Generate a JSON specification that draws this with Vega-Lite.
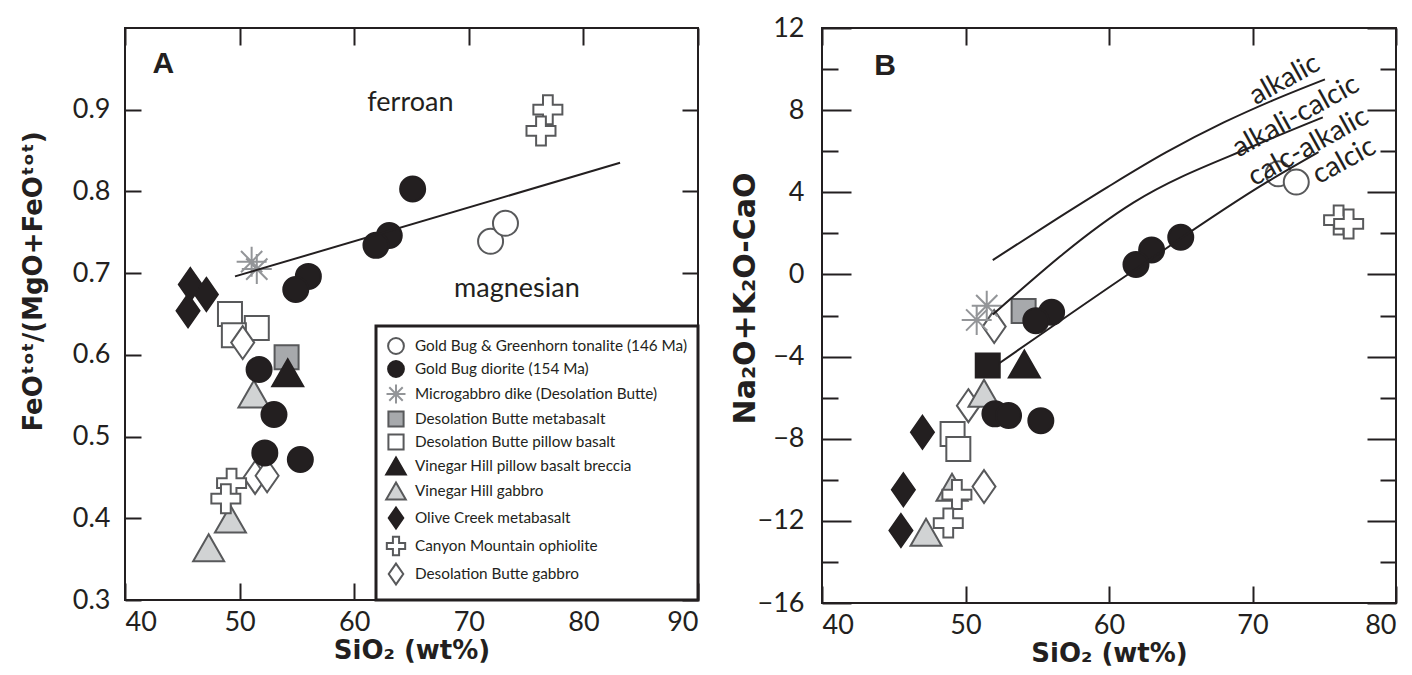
{
  "$schema": "https://vega.github.io/schema/vega-lite/v6.json",
  "padding": {"left": 19, "top": 13, "right": 5, "bottom": 0},
  "spacing": 28,
  "datasets": {
    "ptsA": [
      {"group": "Olive Creek metabasalt", "sio2": 45.7, "v": 0.686},
      {"group": "Olive Creek metabasalt", "sio2": 47.1, "v": 0.674},
      {"group": "Olive Creek metabasalt", "sio2": 45.5, "v": 0.654},
      {"group": "Desolation Butte pillow basalt", "sio2": 49.16, "v": 0.65},
      {"group": "Desolation Butte pillow basalt", "sio2": 51.5, "v": 0.633},
      {"group": "Desolation Butte pillow basalt", "sio2": 49.5, "v": 0.624},
      {"group": "Desolation Butte gabbro", "sio2": 50.27, "v": 0.615},
      {"group": "Desolation Butte gabbro", "sio2": 51.35, "v": 0.45},
      {"group": "Desolation Butte gabbro", "sio2": 52.4, "v": 0.452},
      {"group": "Desolation Butte metabasalt", "sio2": 54.1, "v": 0.597},
      {"group": "Vinegar Hill pillow basalt breccia", "sio2": 54.2, "v": 0.578},
      {"group": "Vinegar Hill gabbro", "sio2": 51.25, "v": 0.552},
      {"group": "Vinegar Hill gabbro", "sio2": 49.2, "v": 0.399},
      {"group": "Vinegar Hill gabbro", "sio2": 47.3, "v": 0.364},
      {"group": "Canyon Mountain ophiolite", "sio2": 76.9, "v": 0.9},
      {"group": "Canyon Mountain ophiolite", "sio2": 76.3, "v": 0.874},
      {"group": "Canyon Mountain ophiolite", "sio2": 49.3, "v": 0.443},
      {"group": "Canyon Mountain ophiolite", "sio2": 48.8, "v": 0.424},
      {"group": "Gold Bug & Greenhorn tonalite (146 Ma)", "sio2": 71.9, "v": 0.739},
      {"group": "Gold Bug & Greenhorn tonalite (146 Ma)", "sio2": 73.2, "v": 0.761},
      {"group": "Microgabbro dike (Desolation Butte)", "sio2": 51.05, "v": 0.714},
      {"group": "Microgabbro dike (Desolation Butte)", "sio2": 51.5, "v": 0.705},
      {"group": "Gold Bug diorite (154 Ma)", "sio2": 65.1, "v": 0.803},
      {"group": "Gold Bug diorite (154 Ma)", "sio2": 63.06, "v": 0.746},
      {"group": "Gold Bug diorite (154 Ma)", "sio2": 61.9, "v": 0.734},
      {"group": "Gold Bug diorite (154 Ma)", "sio2": 56.0, "v": 0.696},
      {"group": "Gold Bug diorite (154 Ma)", "sio2": 54.9, "v": 0.68},
      {"group": "Gold Bug diorite (154 Ma)", "sio2": 51.7, "v": 0.582},
      {"group": "Gold Bug diorite (154 Ma)", "sio2": 53.0, "v": 0.527},
      {"group": "Gold Bug diorite (154 Ma)", "sio2": 52.2, "v": 0.48},
      {"group": "Gold Bug diorite (154 Ma)", "sio2": 55.3, "v": 0.472}
    ],
    "ptsB": [
      {"group": "Olive Creek metabasalt", "sio2": 47.0, "v": -7.69},
      {"group": "Olive Creek metabasalt", "sio2": 45.67, "v": -10.49},
      {"group": "Olive Creek metabasalt", "sio2": 45.5, "v": -12.47},
      {"group": "Desolation Butte pillow basalt", "sio2": 49.1, "v": -7.77},
      {"group": "Desolation Butte pillow basalt", "sio2": 49.5, "v": -8.5},
      {"group": "Desolation Butte gabbro", "sio2": 52.0, "v": -2.54},
      {"group": "Desolation Butte gabbro", "sio2": 50.2, "v": -6.39},
      {"group": "Desolation Butte gabbro", "sio2": 51.29, "v": -10.33},
      {"group": "Desolation Butte metabasalt", "sio2": 54.05, "v": -1.78},
      {"group": "Desolation Butte metabasalt (black square)", "sio2": 51.55, "v": -4.44},
      {"group": "Vinegar Hill pillow basalt breccia", "sio2": 54.1, "v": -4.36},
      {"group": "Vinegar Hill gabbro", "sio2": 51.29, "v": -5.79},
      {"group": "Vinegar Hill gabbro", "sio2": 49.06, "v": -10.36},
      {"group": "Vinegar Hill gabbro", "sio2": 47.25, "v": -12.55},
      {"group": "Canyon Mountain ophiolite", "sio2": 76.0, "v": 2.65},
      {"group": "Canyon Mountain ophiolite", "sio2": 76.7, "v": 2.46},
      {"group": "Canyon Mountain ophiolite", "sio2": 49.4, "v": -10.72},
      {"group": "Canyon Mountain ophiolite", "sio2": 48.8, "v": -12.11},
      {"group": "Gold Bug & Greenhorn tonalite (146 Ma)", "sio2": 71.8, "v": 4.9},
      {"group": "Gold Bug & Greenhorn tonalite (146 Ma)", "sio2": 73.05, "v": 4.5},
      {"group": "Microgabbro dike (Desolation Butte)", "sio2": 51.48, "v": -1.52},
      {"group": "Microgabbro dike (Desolation Butte)", "sio2": 50.78, "v": -2.22},
      {"group": "Gold Bug diorite (154 Ma)", "sio2": 65.0, "v": 1.81},
      {"group": "Gold Bug diorite (154 Ma)", "sio2": 62.97, "v": 1.19},
      {"group": "Gold Bug diorite (154 Ma)", "sio2": 61.88, "v": 0.48},
      {"group": "Gold Bug diorite (154 Ma)", "sio2": 56.0, "v": -1.84},
      {"group": "Gold Bug diorite (154 Ma)", "sio2": 54.9, "v": -2.25},
      {"group": "Gold Bug diorite (154 Ma)", "sio2": 52.05, "v": -6.79},
      {"group": "Gold Bug diorite (154 Ma)", "sio2": 53.0, "v": -6.87},
      {"group": "Gold Bug diorite (154 Ma)", "sio2": 55.25, "v": -7.12}
    ],
    "lineA": [
      {"sio2": 49.6, "v": 0.696},
      {"sio2": 83.2, "v": 0.835}
    ],
    "curvesB": [
      {"curve": "alkalic", "sio2": 51.9, "v": 0.7},
      {"curve": "alkalic", "sio2": 55.9, "v": 2.5},
      {"curve": "alkalic", "sio2": 59.9, "v": 4.25},
      {"curve": "alkalic", "sio2": 64.0, "v": 5.95},
      {"curve": "alkalic", "sio2": 68.0, "v": 7.4},
      {"curve": "alkalic", "sio2": 71.5, "v": 8.5},
      {"curve": "alkalic", "sio2": 75.05, "v": 9.5},
      {"curve": "alkali-calcic", "sio2": 51.9, "v": -1.95},
      {"curve": "alkali-calcic", "sio2": 61.7, "v": 3.5},
      {"curve": "alkali-calcic", "sio2": 70.4, "v": 6.35},
      {"curve": "alkali-calcic", "sio2": 74.9, "v": 7.65},
      {"curve": "calc-alkalic", "sio2": 52.3, "v": -4.35},
      {"curve": "calc-alkalic", "sio2": 61.7, "v": 0.18},
      {"curve": "calc-alkalic", "sio2": 71.0, "v": 4.49},
      {"curve": "calc-alkalic", "sio2": 74.6, "v": 5.95}
    ],
    "zonesA": [
      {"label": "ferroan", "sio2": 64.9, "v": 0.908},
      {"label": "magnesian", "sio2": 74.2, "v": 0.681}
    ],
    "panelA": [{"label": "A", "sio2": 43.34, "v": 0.956}],
    "curveLabelsB": [
      {"label": "alkalic", "sio2": 72.26, "v": 9.47},
      {"label": "alkali-calcic", "sio2": 73.03, "v": 7.68},
      {"label": "calc-alkalic", "sio2": 73.9, "v": 6.19},
      {"label": "calcic", "sio2": 76.4, "v": 5.51}
    ],
    "panelB": [{"label": "B", "sio2": 44.39, "v": 10.16}]
  },
  "hconcat": [
    {
      "width": 573,
      "height": 572,
      "layer": [
        {
          "data": {"name": "ptsA"},
          "mark": {"type": "point", "size": 625, "strokeWidth": 2, "opacity": 1},
          "encoding": {
            "x": {"field": "sio2", "type": "quantitative", "scale": {"domain": [40, 90], "nice": false, "zero": false},
                  "axis": {"orient": "bottom", "values": [40, 50, 60, 70, 80, 90], "tickSize": -17, "labelPadding": 26, "title": "SiO₂ (wt%)", "titlePadding": 2}},
            "y": {"field": "v", "type": "quantitative", "scale": {"domain": [0.3, 1.0], "nice": false, "zero": false},
                  "axis": {"orient": "left", "values": [0.3, 0.4, 0.5, 0.6, 0.7, 0.8, 0.9], "format": ".1f", "tickSize": -16, "labelPadding": 31, "title": "FeOᵗᵒᵗ/(MgO+FeOᵗᵒᵗ)", "titlePadding": 26, "titleY": 253}},
            "shape": {"field": "group", "type": "nominal", "legend": {"title": null, "symbolSize": 250, "encode": {"symbols": {"update": {"size": {"value": 250}}}}},
                      "scale": {"domain": ["Gold Bug & Greenhorn tonalite (146 Ma)", "Gold Bug diorite (154 Ma)", "Microgabbro dike (Desolation Butte)", "Desolation Butte metabasalt", "Desolation Butte pillow basalt", "Vinegar Hill pillow basalt breccia", "Vinegar Hill gabbro", "Olive Creek metabasalt", "Canyon Mountain ophiolite", "Desolation Butte gabbro"],
                                "range": ["circle", "circle", "M0,-1.2V1.2M-1.2,0H1.2M-0.85,-0.85L0.85,0.85M-0.85,0.85L0.85,-0.85", "M-0.96,-0.96H0.96V0.96H-0.96Z", "M-0.96,-0.96H0.96V0.96H-0.96Z", "M0,-1.08L1.24,1.08L-1.24,1.08Z", "M0,-1.08L1.24,1.08L-1.24,1.08Z", "M0,-1.32L0.92,0L0,1.32L-0.92,0Z", "M-0.39,-1.16H0.39V-0.39H1.16V0.39H0.39V1.16H-0.39V0.39H-1.16V-0.39H-0.39Z", "M0,-1.32L0.92,0L0,1.32L-0.92,0Z"]}},
            "fill": {"field": "group", "type": "nominal", "legend": {"title": null, "symbolSize": 250, "encode": {"symbols": {"update": {"size": {"value": 250}}}}},
                     "scale": {"domain": ["Gold Bug & Greenhorn tonalite (146 Ma)", "Gold Bug diorite (154 Ma)", "Microgabbro dike (Desolation Butte)", "Desolation Butte metabasalt", "Desolation Butte pillow basalt", "Vinegar Hill pillow basalt breccia", "Vinegar Hill gabbro", "Olive Creek metabasalt", "Canyon Mountain ophiolite", "Desolation Butte gabbro"],
                               "range": ["#ffffff", "#231f20", "transparent", "#a7a9ac", "#ffffff", "#231f20", "#d1d3d4", "#231f20", "#ffffff", "#ffffff"]}},
            "stroke": {"field": "group", "type": "nominal", "legend": {"title": null, "symbolSize": 250, "encode": {"symbols": {"update": {"size": {"value": 250}}}}},
                       "scale": {"domain": ["Gold Bug & Greenhorn tonalite (146 Ma)", "Gold Bug diorite (154 Ma)", "Microgabbro dike (Desolation Butte)", "Desolation Butte metabasalt", "Desolation Butte pillow basalt", "Vinegar Hill pillow basalt breccia", "Vinegar Hill gabbro", "Olive Creek metabasalt", "Canyon Mountain ophiolite", "Desolation Butte gabbro"],
                                 "range": ["#58595b", "#231f20", "#939598", "#58595b", "#58595b", "#231f20", "#58595b", "#231f20", "#58595b", "#58595b"]}}
          }
        },
        {
          "data": {"name": "lineA"},
          "mark": {"type": "line", "color": "#231f20", "strokeWidth": 2},
          "encoding": {
            "x": {"field": "sio2", "type": "quantitative", "axis": {"orient": "top", "values": [40, 50, 60, 70, 80, 90], "tickSize": -17, "labels": false, "title": null}},
            "y": {"field": "v", "type": "quantitative", "axis": {"orient": "right", "values": [0.3, 0.4, 0.5, 0.6, 0.7, 0.8, 0.9], "tickSize": -16, "labels": false, "title": null}}
          }
        },
        {
          "data": {"name": "zonesA"},
          "mark": {"type": "text", "font": "Lato", "fontSize": 27, "color": "#231f20", "baseline": "middle", "align": "center"},
          "encoding": {
            "x": {"field": "sio2", "type": "quantitative", "axis": null},
            "y": {"field": "v", "type": "quantitative", "axis": null},
            "text": {"field": "label"}
          }
        },
        {
          "data": {"name": "panelA"},
          "mark": {"type": "text", "font": "Liberation Sans", "fontWeight": "bold", "fontSize": 30, "color": "#231f20", "baseline": "middle", "align": "center"},
          "encoding": {
            "x": {"field": "sio2", "type": "quantitative", "axis": null},
            "y": {"field": "v", "type": "quantitative", "axis": null},
            "text": {"field": "label"}
          }
        }
      ],
      "resolve": {"axis": {"x": "independent", "y": "independent"}}
    },
    {
      "width": 574,
      "height": 575,
      "layer": [
        {
          "data": {"name": "ptsB"},
          "mark": {"type": "point", "size": 625, "strokeWidth": 2, "opacity": 1},
          "encoding": {
            "x": {"field": "sio2", "type": "quantitative", "scale": {"domain": [40, 80], "nice": false, "zero": false},
                  "axis": {"orient": "bottom", "values": [40, 50, 60, 70, 80], "tickSize": -17, "labelPadding": 26, "title": "SiO₂ (wt%)", "titlePadding": 2}},
            "y": {"field": "v", "type": "quantitative", "scale": {"domain": [-16, 12], "nice": false, "zero": false},
                  "axis": {"orient": "left", "values": [-16, -12, -8, -4, 0, 4, 8, 12], "tickSize": -29, "labelPadding": 47, "title": "Na₂O+K₂O-CaO", "titleFontSize": 30, "titlePadding": -3, "titleY": 270}},
            "shape": {"field": "group", "type": "nominal", "legend": null,
                      "scale": {"domain": ["Gold Bug & Greenhorn tonalite (146 Ma)", "Gold Bug diorite (154 Ma)", "Microgabbro dike (Desolation Butte)", "Desolation Butte metabasalt", "Desolation Butte pillow basalt", "Vinegar Hill pillow basalt breccia", "Vinegar Hill gabbro", "Olive Creek metabasalt", "Canyon Mountain ophiolite", "Desolation Butte gabbro", "Desolation Butte metabasalt (black square)"],
                                "range": ["circle", "circle", "M0,-1.2V1.2M-1.2,0H1.2M-0.85,-0.85L0.85,0.85M-0.85,0.85L0.85,-0.85", "M-0.96,-0.96H0.96V0.96H-0.96Z", "M-0.96,-0.96H0.96V0.96H-0.96Z", "M0,-1.08L1.24,1.08L-1.24,1.08Z", "M0,-1.08L1.24,1.08L-1.24,1.08Z", "M0,-1.32L0.92,0L0,1.32L-0.92,0Z", "M-0.39,-1.16H0.39V-0.39H1.16V0.39H0.39V1.16H-0.39V0.39H-1.16V-0.39H-0.39Z", "M0,-1.32L0.92,0L0,1.32L-0.92,0Z", "M-0.96,-0.96H0.96V0.96H-0.96Z"]}},
            "fill": {"field": "group", "type": "nominal", "legend": null,
                     "scale": {"domain": ["Gold Bug & Greenhorn tonalite (146 Ma)", "Gold Bug diorite (154 Ma)", "Microgabbro dike (Desolation Butte)", "Desolation Butte metabasalt", "Desolation Butte pillow basalt", "Vinegar Hill pillow basalt breccia", "Vinegar Hill gabbro", "Olive Creek metabasalt", "Canyon Mountain ophiolite", "Desolation Butte gabbro", "Desolation Butte metabasalt (black square)"],
                               "range": ["#ffffff", "#231f20", "transparent", "#a7a9ac", "#ffffff", "#231f20", "#d1d3d4", "#231f20", "#ffffff", "#ffffff", "#231f20"]}},
            "stroke": {"field": "group", "type": "nominal", "legend": null,
                       "scale": {"domain": ["Gold Bug & Greenhorn tonalite (146 Ma)", "Gold Bug diorite (154 Ma)", "Microgabbro dike (Desolation Butte)", "Desolation Butte metabasalt", "Desolation Butte pillow basalt", "Vinegar Hill pillow basalt breccia", "Vinegar Hill gabbro", "Olive Creek metabasalt", "Canyon Mountain ophiolite", "Desolation Butte gabbro", "Desolation Butte metabasalt (black square)"],
                                 "range": ["#58595b", "#231f20", "#939598", "#58595b", "#58595b", "#231f20", "#58595b", "#231f20", "#58595b", "#58595b", "#231f20"]}}
          }
        },
        {
          "data": {"name": "curvesB"},
          "mark": {"type": "line", "color": "#231f20", "strokeWidth": 2, "interpolate": "monotone"},
          "encoding": {
            "x": {"field": "sio2", "type": "quantitative", "axis": {"orient": "top", "values": [40, 50, 60, 70, 80], "tickSize": -17, "labels": false, "title": null}},
            "y": {"field": "v", "type": "quantitative", "axis": {"orient": "right", "values": [-16, -12, -8, -4, 0, 4, 8, 12], "tickSize": -29, "labels": false, "title": null}},
            "detail": {"field": "curve"}
          }
        },
        {
          "data": {"name": "curveLabelsB"},
          "mark": {"type": "text", "font": "Lato", "fontSize": 28, "color": "#231f20", "baseline": "middle", "align": "center", "angle": 331},
          "encoding": {
            "x": {"field": "sio2", "type": "quantitative", "axis": null},
            "y": {"field": "v", "type": "quantitative", "axis": {"orient": "left", "values": [-14, -10, -6, -2, 2, 6, 10], "tickSize": -16, "labels": false, "title": null}},
            "text": {"field": "label"}
          }
        },
        {
          "data": {"name": "panelB"},
          "mark": {"type": "text", "font": "Liberation Sans", "fontWeight": "bold", "fontSize": 30, "color": "#231f20", "baseline": "middle", "align": "center"},
          "encoding": {
            "x": {"field": "sio2", "type": "quantitative", "axis": null},
            "y": {"field": "v", "type": "quantitative", "axis": {"orient": "right", "values": [-14, -10, -6, -2, 2, 6, 10], "tickSize": -16, "labels": false, "title": null}},
            "text": {"field": "label"}
          }
        }
      ],
      "resolve": {"axis": {"x": "independent", "y": "independent"}}
    }
  ],
  "resolve": {
    "scale": {"shape": "independent", "fill": "independent", "stroke": "independent"},
    "legend": {"shape": "independent", "fill": "independent", "stroke": "independent"}
  },
  "config": {
    "view": {"stroke": "#231f20", "strokeWidth": 2},
    "axis": {
      "domain": false, "grid": false,
      "tickColor": "#231f20", "tickWidth": 2,
      "labelFont": "Lato", "labelFontSize": 27, "labelColor": "#231f20",
      "titleFont": "DejaVu Sans", "titleFontSize": 26, "titleFontWeight": "bold", "titleColor": "#231f20"
    },
    "legend": {
      "orient": "bottom-right", "offset": 0, "padding": 11,
      "strokeColor": "#231f20", "strokeWidth": 3, "fillColor": "#ffffff",
      "labelFont": "Lato", "labelFontSize": 15.3, "labelColor": "#231f20", "labelLimit": 400,
      "symbolSize": 250, "symbolStrokeWidth": 2, "rowPadding": -1, "labelOffset": 10
    }
  }
}
